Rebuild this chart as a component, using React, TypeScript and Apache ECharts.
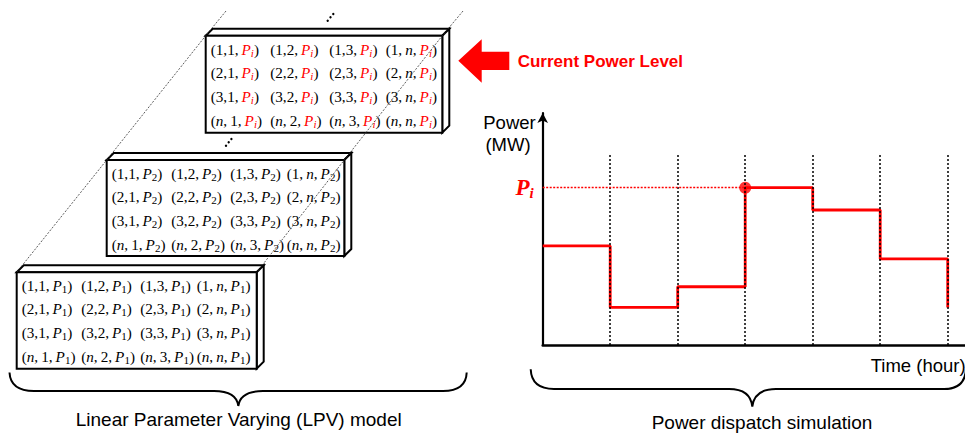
import React, { useEffect, useRef } from "react";
import * as echarts from "echarts";

// ---------- data ----------
const hours = [0, 1, 2, 3, 4, 5, 6];
const powerLevel = [4.27, 1.62, 2.51, 6.78, 5.82, 3.71, 1.62];
const dividerHours = [1, 2, 3, 4, 5, 6];
const dividerTop = 8.28;
const currentIndex = 3;
const rowLabels = ["1", "2", "3", "n"];
const colLabels = ["1", "2", "3", "n"];
const levelSubscripts = ["1", "2", "i"]; // bottom, middle, top matrix
const titleCurrent = "Current Power Level";
const yName = ["Power", "(MW)"];
const xName = "Time (hour)";
const leftCaption = "Linear Parameter Varying (LPV) model";
const rightCaption = "Power dispatch simulation";

// ---------- layout ----------
const RED = "#ff0000";
const SERIF = "Liberation Serif";
const SANS = "Liberation Sans";
const boxLayout = [
  { x: 16.7, y: 272.3, w: 240, h: 96.4 },
  { x: 106.7, y: 160, w: 237.6, h: 96 },
  { x: 205.7, y: 35.7, w: 236.6, h: 97 },
];
const colOffsets = [5, 64.5, 123.5, 180];
const rowOffsets = [13.5, 36.5, 60.5, 84.5];
const DEPTH = 7;
const CELL_FS = 15.2;

echarts.graphic.registerShape(
  "braceLeft",
  echarts.graphic.extendPath(
    "M9.5,372.5 Q10.5,391 34,391 L214,391 Q236.5,391 238.3,406 Q240.3,391 263,391 L443,391 Q466,391 466.7,372.5",
    {}
  )
);
echarts.graphic.registerShape(
  "braceRight",
  echarts.graphic.extendPath(
    "M530.7,369.3 Q531.5,389 554,389 L729,389 Q750.5,389 752.3,406.7 Q754.3,389 776,389 L944,389 Q965,389 966,369",
    {}
  )
);

function cellText(r: string, c: string, sub: string): string {
  const f = (v: string) => (v === "n" ? "{n|n}" : v);
  const sep = r === "n" || c === "n" ? ",\u2009" : ",";
  return `(${f(r)}${sep}${f(c)},{p|\u2009P}{s|${sub}})`;
}

function buildGraphics(): any[] {
  const els: any[] = [];
  boxLayout.forEach((b, bi) => {
    const sub = levelSubscripts[bi];
    const pColor = sub === "i" ? RED : "#000";
    const z = 10 + bi * 3;
    const faceStyle = { fill: "#fff", stroke: "#000", lineWidth: 2, lineJoin: "miter" };
    els.push({
      type: "polygon",
      z,
      shape: {
        points: [
          [b.x, b.y],
          [b.x + DEPTH, b.y - DEPTH],
          [b.x + b.w + DEPTH, b.y - DEPTH],
          [b.x + b.w, b.y],
        ],
      },
      style: faceStyle,
    });
    els.push({
      type: "polygon",
      z,
      shape: {
        points: [
          [b.x + b.w, b.y],
          [b.x + b.w + DEPTH, b.y - DEPTH],
          [b.x + b.w + DEPTH, b.y + b.h - DEPTH],
          [b.x + b.w, b.y + b.h],
        ],
      },
      style: faceStyle,
    });
    els.push({
      type: "rect",
      z,
      shape: { x: b.x, y: b.y, width: b.w, height: b.h },
      style: faceStyle,
    });
    rowLabels.forEach((r, ri) => {
      colLabels.forEach((c, ci) => {
        els.push({
          type: "text",
          z: z + 1,
          x: b.x + colOffsets[ci],
          y: b.y + rowOffsets[ri],
          style: {
            text: cellText(r, c, sub),
            fill: "#000",
            fontFamily: SERIF,
            fontSize: CELL_FS,
            lineHeight: 18,
            align: "left",
            verticalAlign: "middle",
            rich: {
              n: { fontFamily: SERIF, fontSize: CELL_FS, fontStyle: "italic", lineHeight: 18, verticalAlign: "middle", fill: "#000" },
              p: { fontFamily: SERIF, fontSize: CELL_FS, fontStyle: "italic", lineHeight: 18, verticalAlign: "middle", fill: pColor },
              s: {
                fontFamily: SERIF,
                fontSize: 11,
                fontStyle: sub === "i" ? "italic" : "normal",
                lineHeight: 11.5,
                verticalAlign: "bottom",
                fill: pColor,
              },
            },
          },
        });
      });
    });
  });

  // dotted perspective lines
  const dotted = { stroke: "#333", lineWidth: 0.8, lineDash: [2, 1.5], fill: "none" };
  els.push({
    type: "polyline",
    z: 30,
    shape: { points: [[226, 11], [205.7, 35.7], [106.7, 160], [16.7, 272.3]] },
    style: dotted,
  });
  els.push({
    type: "polyline",
    z: 30,
    shape: { points: [[463, 11], [442.3, 35.7], [344.3, 160], [256.7, 272.3]] },
    style: dotted,
  });

  // diagonal ellipsis dots
  const dotSets = [
    [[327.7, 20.7], [330.5, 17.3], [333.3, 14]],
    [[226, 145.7], [228.7, 142.3], [231.4, 139]],
  ];
  dotSets.forEach((set) =>
    set.forEach(([cx, cy]) =>
      els.push({ type: "circle", z: 30, shape: { cx, cy, r: 1.2 }, style: { fill: "#000" } })
    )
  );

  // red arrow
  els.push({
    type: "polygon",
    z: 30,
    shape: {
      points: [
        [458.3, 60.7],
        [481.7, 39.3],
        [481.7, 51.7],
        [509.3, 51.7],
        [509.3, 70],
        [481.7, 70],
        [481.7, 82.7],
      ],
    },
    style: { fill: RED },
  });
  els.push({
    type: "text",
    z: 30,
    x: 517.7,
    y: 61,
    style: {
      text: titleCurrent,
      fill: RED,
      fontFamily: SANS,
      fontWeight: "bold",
      fontSize: 17,
      align: "left",
      verticalAlign: "middle",
    },
  });

  // axis names
  els.push({
    type: "text",
    z: 30,
    x: 509.5,
    y: 122,
    style: { text: yName[0], fill: "#000", fontFamily: SANS, fontSize: 18.5, align: "center", verticalAlign: "middle" },
  });
  els.push({
    type: "text",
    z: 30,
    x: 508,
    y: 144,
    style: { text: yName[1], fill: "#000", fontFamily: SANS, fontSize: 18.5, align: "center", verticalAlign: "middle" },
  });
  els.push({
    type: "text",
    z: 30,
    x: 870.7,
    y: 365,
    style: { text: xName, fill: "#000", fontFamily: SANS, fontSize: 18.5, align: "left", verticalAlign: "middle" },
  });

  // braces
  els.push({ type: "braceLeft", z: 30, style: { stroke: "#000", lineWidth: 2, fill: "none" } });
  els.push({ type: "braceRight", z: 30, style: { stroke: "#000", lineWidth: 2, fill: "none" } });

  // captions
  els.push({
    type: "text",
    z: 30,
    x: 238.7,
    y: 419.5,
    style: { text: leftCaption, fill: "#000", fontFamily: SANS, fontSize: 19, align: "center", verticalAlign: "middle" },
  });
  els.push({
    type: "text",
    z: 30,
    x: 762,
    y: 422.5,
    style: { text: rightCaption, fill: "#000", fontFamily: SANS, fontSize: 19, align: "center", verticalAlign: "middle" },
  });
  return els;
}

export default function App() {
  const ref = useRef<HTMLDivElement>(null);
  useEffect(() => {
    if (!ref.current) return;
    const chart = echarts.init(ref.current, null, { renderer: "svg" });
    const stepData = hours.map((h, i) => [h, powerLevel[i]]);
    const cur = [hours[currentIndex], powerLevel[currentIndex]];
    chart.setOption({
      animation: false,
      backgroundColor: "#fff",
      grid: { left: 542.7, top: 113, right: 0, bottom: 91, containLabel: false },
      xAxis: {
        type: "value",
        min: 0,
        max: 6.256,
        axisLine: { show: true, onZero: false, lineStyle: { color: "#000", width: 2.5 } },
        axisTick: { show: false },
        axisLabel: { show: false },
        splitLine: { show: false },
      },
      yAxis: {
        type: "value",
        min: 0,
        max: 10,
        axisLine: {
          show: true,
          onZero: false,
          symbol: ["none", "arrow"],
          symbolSize: [8, 10],
          lineStyle: { color: "#000", width: 2.2 },
        },
        axisTick: { show: false },
        axisLabel: { show: false },
        splitLine: { show: false },
      },
      graphic: buildGraphics(),
      series: [
        {
          type: "line",
          data: [],
          z: 1,
          silent: true,
          markLine: {
            silent: true,
            symbol: ["none", "none"],
            label: { show: false },
            lineStyle: { color: "#000", type: [2, 2], width: 1.5 },
            emphasis: { disabled: true },
            data: dividerHours.map((h) => [{ coord: [h, 0] }, { coord: [h, dividerTop] }]),
          },
        },
        {
          type: "line",
          step: "end",
          data: stepData,
          symbol: "none",
          z: 3,
          silent: true,
          lineStyle: { color: RED, width: 2.8 },
          markLine: {
            silent: true,
            symbol: ["none", "none"],
            emphasis: { disabled: true },
            lineStyle: { color: RED, type: [2, 1.5], width: 1.3 },
            label: {
              show: true,
              position: "start",
              distance: 9,
              formatter: "{p|P}{s|i}",
              rich: {
                p: { fontFamily: SERIF, fontStyle: "italic", fontWeight: "bold", fontSize: 23, color: RED, lineHeight: 26, verticalAlign: "middle" },
                s: { fontFamily: SERIF, fontStyle: "italic", fontWeight: "bold", fontSize: 15, color: RED, lineHeight: 15, verticalAlign: "bottom" },
              },
            },
            data: [[{ coord: [0, cur[1]] }, { coord: cur }]],
          },
        },
        {
          type: "scatter",
          data: [cur],
          symbol: "circle",
          symbolSize: 12,
          z: 4,
          silent: true,
          itemStyle: { color: RED },
        },
      ],
    });
    return () => chart.dispose();
  }, []);
  return (
    <div
      ref={ref}
      style={{ position: "fixed", left: 0, top: 0, width: 965, height: 436, background: "#fff" }}
    />
  );
}
